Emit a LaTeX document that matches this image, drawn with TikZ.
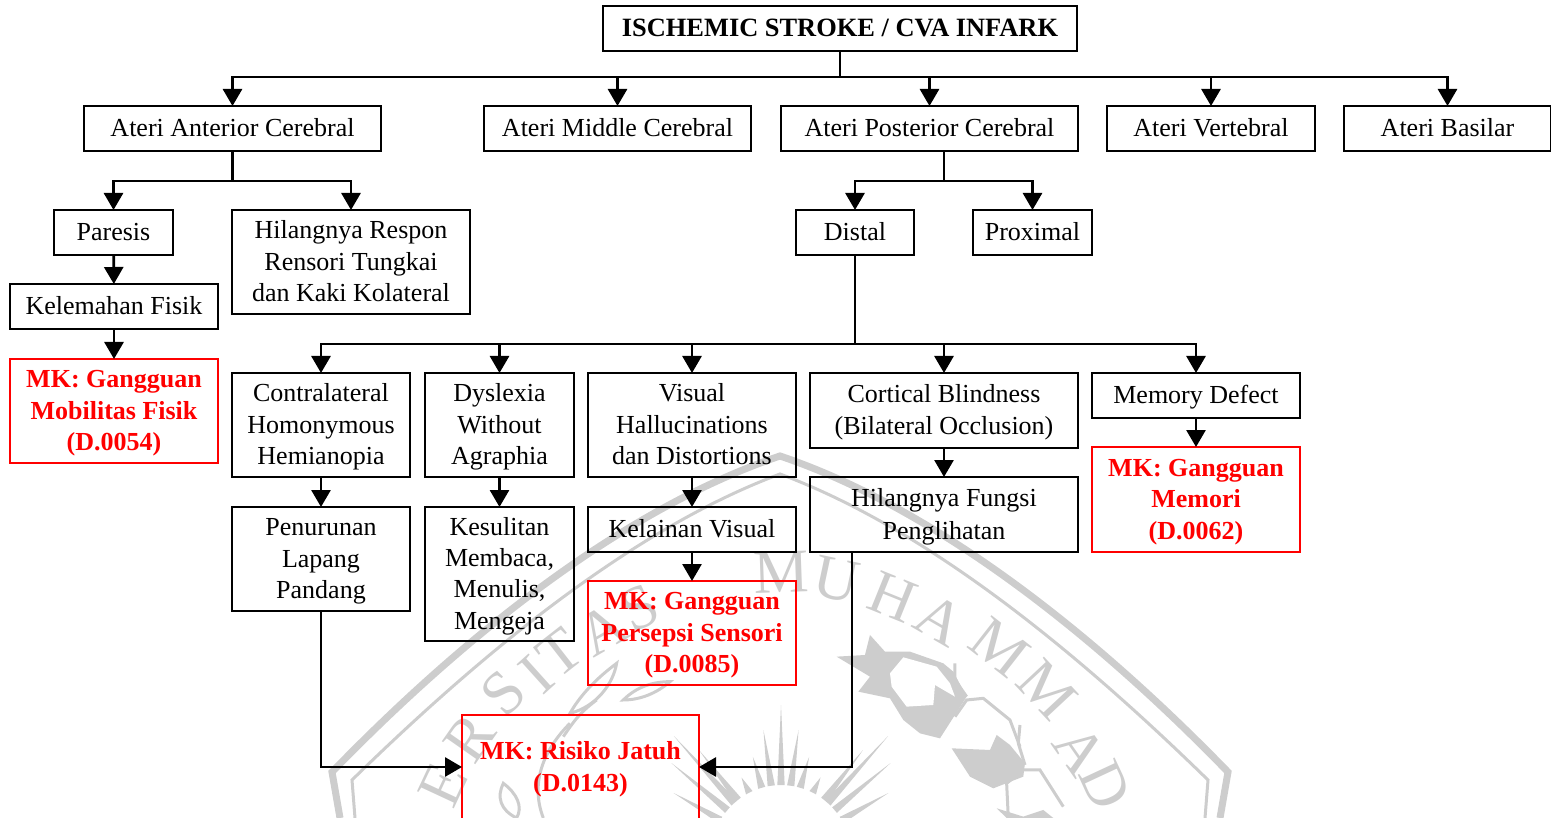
\documentclass[tikz,border=0pt]{standalone}
\usepackage{fontspec}
\setmainfont{Liberation Serif}
\usepackage{xcolor}
\usetikzlibrary{arrows.meta,positioning,calc}

\definecolor{markgray}{RGB}{205,205,205}
\newcommand{\boxstrut}{\rule[-7.5pt]{0pt}{31.5pt}}

\tikzset{
    boxnode/.style={draw=black,line width=2.8pt,rectangle,align=flush center,inner sep=0pt,outer sep=0pt,
        font=\fontsize{26}{31.4}\selectfont,execute at begin node=\boxstrut,execute at end node=\boxstrut},
    mknode/.style={boxnode,draw=red,text=red,font=\fontsize{26}{31.4}\selectfont\bfseries},
    linkarrow/.style={line width=2.8pt,-{Triangle[width=19pt,length=17pt]}},
    linkline/.style={line width=2.8pt},
    markline/.style={markgray,line width=3pt},
    markletter/.style={text=markgray,font=\fontsize{62}{62}\selectfont}
}

\begin{document}
\begin{tikzpicture}[x=1pt,y=-1pt]
\useasboundingbox (0,0) rectangle (1551,818);

% Watermark shield
\draw[markline,line width=7pt] (340,818) -- (332,772) .. controls (460,640) and (620,510) .. (780,456) .. controls (940,510) and (1100,640) .. (1228,772) -- (1220,818);
\draw[markline] (355,818) -- (352,780) .. controls (480,655) and (630,530) .. (780,474) .. controls (930,530) and (1080,655) .. (1208,780) -- (1205,818);

% Watermark letters
\foreach \x/\y/\r/\t in {443/785/65/E,470/738/55/R,503/693/45/S,537/675/42/I,560/653/38/T,
    603/630/30/A,640/608/25/S,781/572/2/M,837/580/-12/U,893/597/-22/H,940/620/-30/A,1000/647/-38/M,1047/690/-47/M,1080/750/-55/A,1105/785/-65/D} {
    \node[markletter,rotate=\r] at (\x,\y) {\t};
}

% Watermark rays
\foreach \a/\r in {0/150,8/126,16/102,27/87,38/133,42/160,50/143,60/124,-8/126,-16/102,-27/87,-38/133,-42/160,-50/143,-60/124} {
    \fill[markgray] ($(781,855)+(-90+\a-3:70)$) -- ($(781,855)+(-90+\a:\r)$) -- ($(781,855)+(-90+\a+3:70)$) -- cycle;
}

% Watermark emblem
\begin{scope}[shift={(770,550)},x=0.3333pt,y=-0.3333pt]
\fill[markgray] (200,320) -- (285,315) -- (300,255) -- (345,305) -- (420,305) -- (520,340) -- (550,365) -- (590,440) -- (510,565) -- (450,550) -- (400,510) -- (360,445) -- (265,425) -- (300,380) -- cycle;
\fill[white] (360,370) -- (400,322) -- (500,350) -- (540,400) -- (555,440) -- (495,405) -- (490,465) -- (410,470) -- (365,410) -- cycle;
\fill[markgray] (545,595) -- (660,600) -- (680,555) -- (720,585) -- (765,640) -- (760,680) -- (670,715) -- (600,680) -- cycle;
\draw[markline] (555,500) -- (590,450) -- (640,445) -- (720,510) -- (750,590);
\draw[markline] (555,340) -- (555,390) -- (590,440);
\draw[markline] (750,525) -- (745,580) -- (765,645);
\draw[markline] (715,804) -- (710,700) -- (760,660) -- (810,660) -- (880,770);
\fill[markgray] (680,775) -- (760,800) -- (820,780) -- (850,804) -- (710,804) -- cycle;
\end{scope}

% Watermark leaves
\begin{scope}[shift={(330,550)},x=0.3333pt,y=-0.3333pt]
\draw[markline] (720,490) .. controls (760,420) and (820,370) .. (860,340) .. controls (850,400) and (800,470) .. cycle;
\draw[markline] (880,450) .. controls (920,410) and (970,395) .. (1020,395) .. controls (980,430) and (930,450) .. cycle;
\draw[markline] (700,560) .. controls (740,500) and (760,480) .. (800,450);
\draw[markline] (520,700) .. controls (500,740) and (510,780) .. (560,804) .. controls (580,770) and (560,730) .. cycle;
\draw[markline] (640,804) .. controls (600,700) and (640,600) .. (720,520);
\end{scope}

% Top level
\node[boxnode,text width=474,minimum height=45,font=\fontsize{26.4}{31.4}\selectfont\bfseries] (stroke) at (840,28.5) {ISCHEMIC STROKE / CVA INFARK};
\node[boxnode,text width=297,minimum height=45] (anterior) at (232.5,128.5) {Ateri Anterior Cerebral};
\node[boxnode,text width=267,minimum height=45] (middle) at (617.5,128.5) {Ateri Middle Cerebral};
\node[boxnode,text width=297,minimum height=45] (posterior) at (929.5,128.5) {Ateri Posterior Cerebral};
\node[boxnode,text width=208,minimum height=45] (vertebral) at (1211,128.5) {Ateri Vertebral};
\node[boxnode,text width=207,minimum height=45] (basilar) at (1447.5,128.5) {Ateri Basilar};

% Anterior branch
\node[boxnode,text width=119,minimum height=45] (paresis) at (113.5,232.5) {Paresis};
\node[boxnode,text width=238,minimum height=104] (respon) at (351,262) {Hilangnya Respon\\Rensori Tungkai\\dan Kaki Kolateral};
\node[boxnode,text width=208,minimum height=45] (kelemahan) at (114,306.5) {Kelemahan Fisik};
\node[mknode,text width=208,minimum height=104] (mobilitas) at (114,411) {MK: Gangguan\\Mobilitas Fisik\\(D.0054)};

% Posterior branch
\node[boxnode,text width=118,minimum height=45] (distal) at (855,232.5) {Distal};
\node[boxnode,text width=119,minimum height=45] (proximal) at (1032.5,232.5) {Proximal};
\node[boxnode,text width=178,minimum height=104] (contra) at (321,425) {Contralateral\\Homonymous\\Hemianopia};
\node[boxnode,text width=149,minimum height=104] (dyslexia) at (499.5,425) {Dyslexia\\Without\\Agraphia};
\node[boxnode,text width=208,minimum height=104] (halluc) at (692,425) {Visual\\Hallucinations\\dan Distortions};
\node[boxnode,text width=268,minimum height=75] (blindness) at (944,410.5) {Cortical Blindness\\(Bilateral Occlusion)};
\node[boxnode,text width=208,minimum height=45] (memory) at (1196,395.5) {Memory Defect};
\node[mknode,text width=208,minimum height=105] (memori) at (1196,499.5) {MK: Gangguan\\Memori\\(D.0062)};
\node[boxnode,text width=178,minimum height=104] (lapang) at (321,559) {Penurunan\\Lapang\\Pandang};
\node[boxnode,text width=149,minimum height=134] (kesulitan) at (499.5,574) {Kesulitan\\Membaca,\\Menulis,\\Mengeja};
\node[boxnode,text width=208,minimum height=45] (kelainan) at (692,529.5) {Kelainan Visual};
\node[boxnode,text width=268,minimum height=75] (fungsi) at (944,514.5) {Hilangnya Fungsi\\Penglihatan};
\node[mknode,text width=208,minimum height=104] (persepsi) at (692,633) {MK: Gangguan\\Persepsi Sensori\\(D.0085)};
\node[mknode,text width=237,minimum height=104] (risiko) at (580.5,767) {MK: Risiko Jatuh\\(D.0143)};

% Junctions
\coordinate (topbus) at (840,77);
\coordinate (anteriorbus) at (232.5,181);
\coordinate (posteriorout) at (944,151);
\coordinate (posteriorbus) at (944,181);
\coordinate (distalbus) at (855,344);
\coordinate (fungsiout) at (852,552);

% Connectors
\draw[linkline] (stroke.south) -- (topbus);
\foreach \n in {anterior,middle,posterior,vertebral,basilar} {
    \draw[linkarrow] (topbus) -| (\n.north);
}
\draw[linkline] (anterior.south) -- (anteriorbus);
\foreach \n in {paresis,respon} {
    \draw[linkarrow] (anteriorbus) -| (\n.north);
}
\draw[linkline] (posteriorout) -- (posteriorbus);
\foreach \n in {distal,proximal} {
    \draw[linkarrow] (posteriorbus) -| (\n.north);
}
\draw[linkline] (distal.south) -- (distalbus);
\foreach \n in {contra,dyslexia,halluc,blindness,memory} {
    \draw[linkarrow] (distalbus) -| (\n.north);
}
\draw[linkarrow] (paresis) -- (kelemahan);
\draw[linkarrow] (kelemahan) -- (mobilitas);
\draw[linkarrow] (contra) -- (lapang);
\draw[linkarrow] (dyslexia) -- (kesulitan);
\draw[linkarrow] (halluc) -- (kelainan);
\draw[linkarrow] (kelainan) -- (persepsi);
\draw[linkarrow] (blindness) -- (fungsi);
\draw[linkarrow] (memory) -- (memori);
\draw[linkarrow] (lapang.south) |- (risiko.west);
\draw[linkarrow] (fungsiout) |- (risiko.east);

\end{tikzpicture}
\end{document}
